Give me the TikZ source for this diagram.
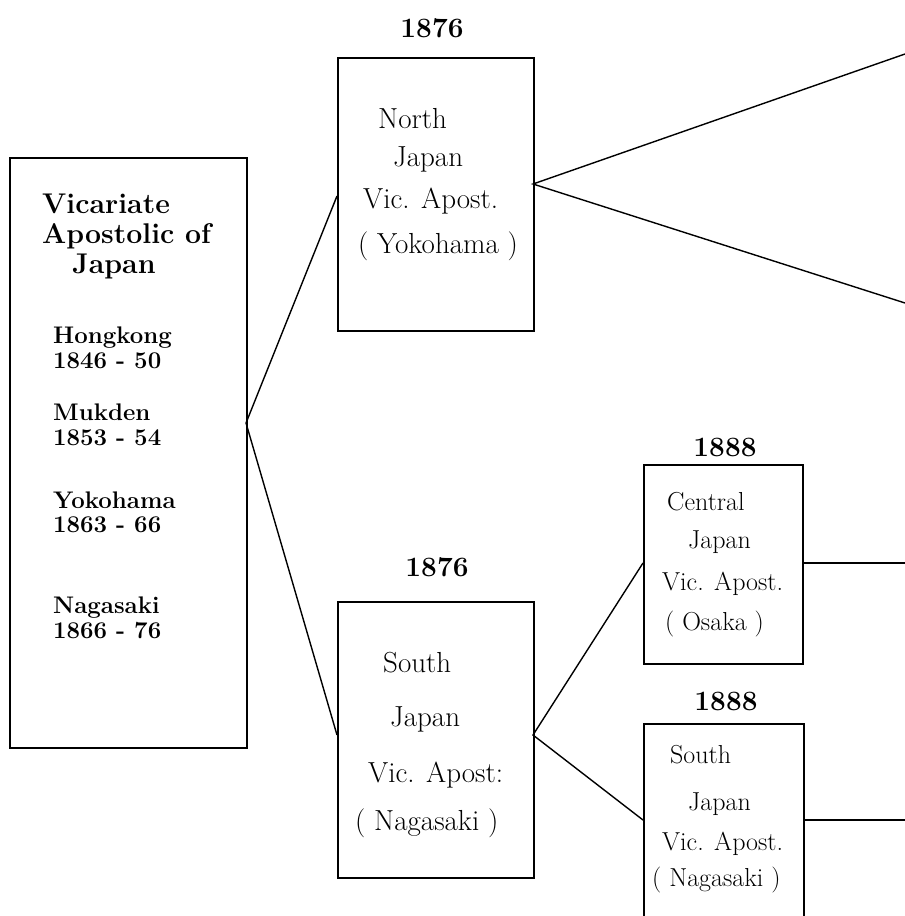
\documentclass[tikz,border=0pt]{standalone}
\usepackage{fontspec}
\begin{document}
\begin{tikzpicture}[x=1pt,y=-1pt,
  box/.style={draw, line width=1.5pt, rectangle, inner sep=0pt, anchor=north west},
  conn/.style={line width=1.4pt},
  big/.style={font=\fontsize{29}{33}\selectfont, anchor=base west, inner sep=0pt},
  small/.style={font=\fontsize{26}{30}\selectfont, anchor=base west, inner sep=0pt},
  title/.style={font=\bfseries\fontsize{28.5}{32}\selectfont, anchor=base west, inner sep=0pt},
  list/.style={font=\bfseries\fontsize{24}{27}\selectfont, anchor=base west, inner sep=0pt},
  year/.style={font=\bfseries\fontsize{28}{32}\selectfont\addfontfeature{LetterSpace=12}, anchor=base, inner sep=0pt}]
\useasboundingbox (0,0) rectangle (905,916);
% boxes
\node[box, minimum width=237pt, minimum height=590pt] (vic) at (9,157) {};
\node[box, minimum width=196pt, minimum height=273pt] (nj) at (337,57) {};
\node[box, minimum width=196pt, minimum height=276pt] (sj) at (337,601) {};
\node[box, minimum width=159pt, minimum height=199pt] (cj) at (643,464) {};
\node[box, minimum width=160pt, minimum height=200pt] (sj2) at (643,723) {};
% years
\node[year] (y1) at (432,37) {1876};
\node[year] (y2) at (437,576) {1876};
\node[year] (y3) at (725,456) {1888};
\node[year] (y4) at (726,710) {1888};
% left box text
\node[title] (t1) at (42,213) {Vicariate};
\node[title] (t2) at (42,243) {Apostolic of};
\node[title] (t3) at (72,273) {Japan};
\node[list] (l1) at (53,343) {Hongkong};
\node[list] (l2) at (53,368) {1846 - 50};
\node[list] (l3) at (53,420) {Mukden};
\node[list] (l4) at (53,445) {1853 - 54};
\node[list] (l5) at (53,508) {Yokohama};
\node[list] (l6) at (53,532) {1863 - 66};
\node[list] (l7) at (53,613) {Nagasaki};
\node[list] (l8) at (53,638) {1866 - 76};
% north japan text
\node[big] (n1) at (378,128) {North};
\node[big] (n2) at (393,166) {Japan};
\node[big] (n3) at (363,208) {Vic. Apost.};
\node[big] (n4) at (358,253) {( Yokohama )};
% south japan text
\node[big] (s1) at (383,672) {South};
\node[big] (s2) at (390,726) {Japan};
\node[big] (s3) at (368,782) {Vic. Apost:};
\node[big] (s4) at (355,830) {( Nagasaki )};
% central japan text
\node[small] (c1) at (667,510) {Central};
\node[small] (c2) at (688,548) {Japan};
\node[small] (c3) at (662,590) {Vic. Apost.};
\node[small] (c4) at (665,630) {( Osaka )};
% south japan 1888 text
\node[small] (d1) at (670,763) {South};
\node[small] (d2) at (688,810) {Japan};
\node[small] (d3) at (662,850) {Vic. Apost.};
\node[small] (d4) at (652,886) {( Nagasaki )};
% connection points
\coordinate (vicE) at (246,423);
\coordinate (njW) at (337,196);
\coordinate (sjW) at (337,735);
\coordinate (njE) at (533,184);
\coordinate (sjE) at (533,735);
\coordinate (cjW) at (643,563);
\coordinate (sj2W) at (643,820);
\coordinate (cjE) at (802,563);
\coordinate (sj2E) at (803,820);
\coordinate (outA) at (905,54);
\coordinate (outB) at (905,303);
\coordinate (outC) at (905,563);
\coordinate (outD) at (905,820);
% connectors
\draw[conn] (njW) -- (vicE) -- (sjW);
\draw[conn] (outA) -- (njE) -- (outB);
\draw[conn] (cjW) -- (sjE) -- (sj2W);
\draw[conn] (cjE) -- (outC);
\draw[conn] (sj2E) -- (outD);
\end{tikzpicture}
\end{document}
